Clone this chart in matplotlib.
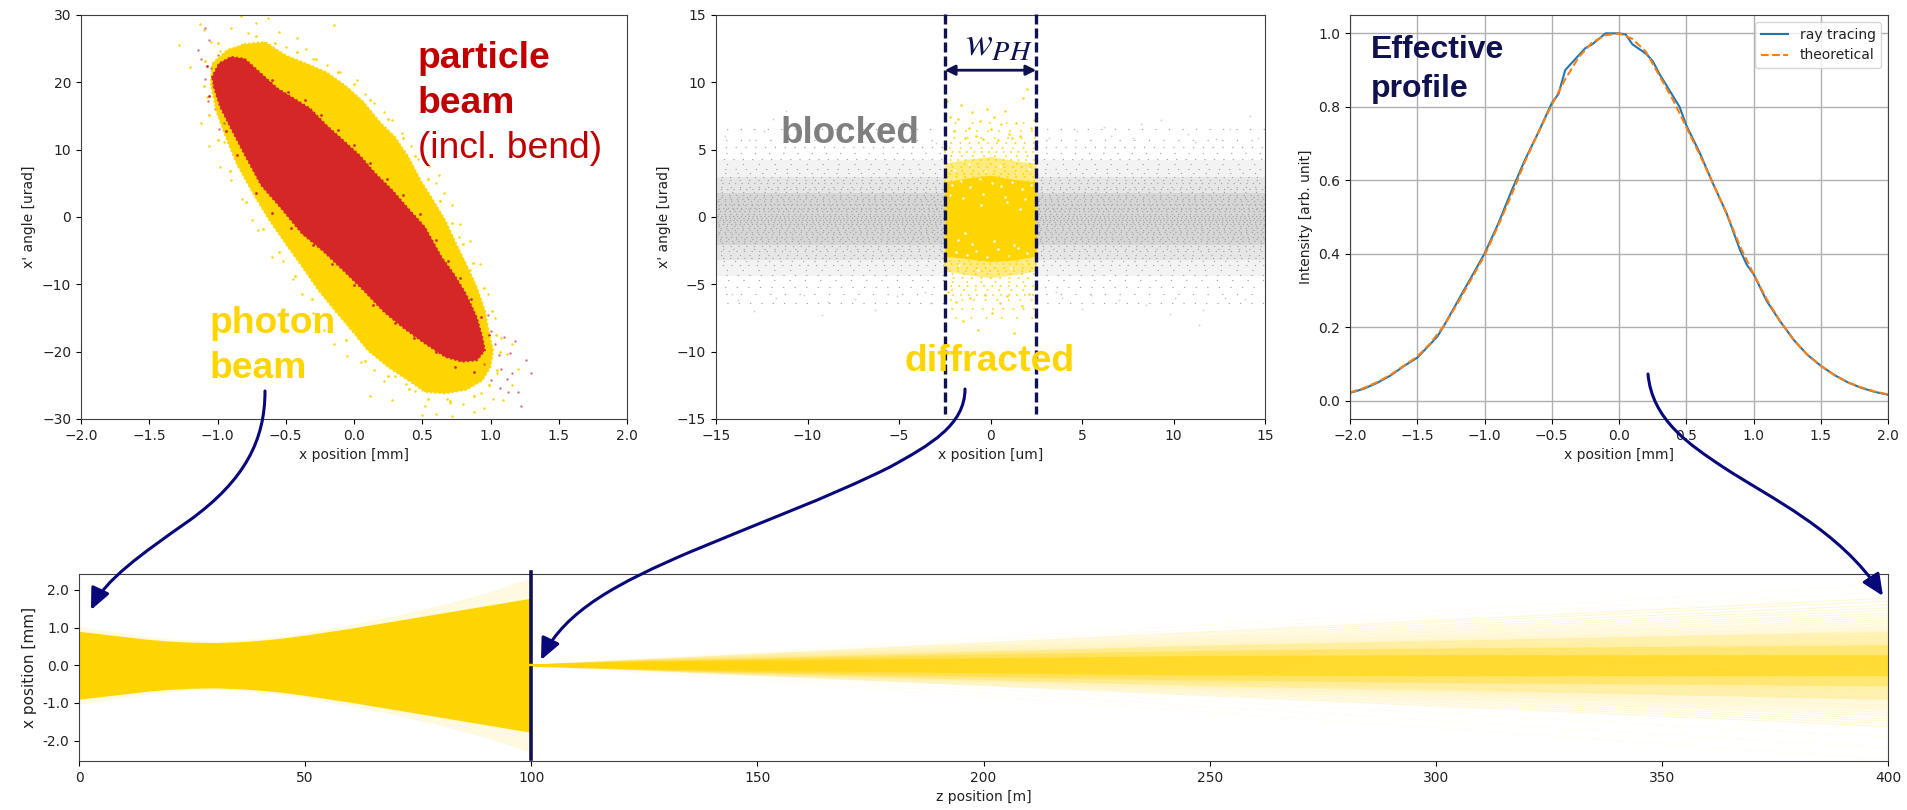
import matplotlib
matplotlib.use('Agg')
import matplotlib.pyplot as plt
from matplotlib.patches import FancyArrowPatch
from matplotlib.path import Path

W, H = 1907, 810
yellow = '#ffd500'
navy = '#10124f'
arrow_navy = '#08087a'

# phase space of photon and particle beams (outline of the dense cloud)
photon_x = [-0.80, -0.65, -0.50, -0.35, -0.20, -0.05, 0.07, 0.19, 0.30, 0.40, 0.49, 0.58, 0.67, 0.75, 0.82, 0.90, 0.96, 0.99, 1.02,
            1.0, 0.94, 0.82, 0.67, 0.52, 0.40, 0.25, 0.10, -0.02, -0.14, -0.26, -0.38, -0.50, -0.62, -0.74, -0.86, -0.95,
            -1.01, -1.05, -1.04, -0.93]
photon_y = [25.7, 26.0, 24.0, 22.8, 21.5, 19.3, 17.1, 14.1, 11.9, 8.9, 5.4, 2.5, -0.5, -4.0, -6.9, -10.4, -13.9, -17.3, -19.8,
            -22.3, -24.3, -25.7, -26.2, -26.0, -24.3, -22.3, -19.8, -16.8, -13.9, -10.9, -7.4, -4.0, -0.5, 3.5, 7.9, 12.4,
            15.8, 19.8, 22.8, 24.8]
particle_x = [-1.04, -0.99, -0.90, -0.80, -0.68, -0.56, -0.44, -0.32, -0.20, -0.08, 0.04, 0.16, 0.28, 0.40, 0.52, 0.64, 0.73, 0.82,
              0.90, 0.94, 0.96, 0.90, 0.79, 0.67, 0.52, 0.37, 0.22, 0.07, -0.08, -0.23, -0.38, -0.53, -0.68, -0.80, -0.90,
              -0.98, -1.02]
particle_y = [20.8, 22.8, 23.8, 23.5, 21.3, 19.1, 17.6, 16.1, 13.6, 11.4, 9.2, 6.4, 4.0, 1.2, -1.5, -5.9, -8.4, -11.4,
              -14.9, -17.8, -19.8, -21.3, -21.5, -20.8, -18.8, -16.6, -14.1, -10.9, -7.9, -5.0, -2.5, 1.2, 4.7, 9.2, 13.1,
              16.3, 18.8]
# loose points outside the dense cloud
photon_stray_x = [-1.13, -0.83, -0.63, -0.15, -1.28, -1.2, -1.1, -1.05, -0.98, -0.9, -0.78, -0.72, -0.55, -0.5, -0.42, -0.35, -0.3,
                  -0.2, -0.1, 0.02, 0.08, 0.15, 0.22, 0.28, 0.35, 0.42, 0.47, 0.55, 0.6, 0.66, 0.72, 0.78, 0.85, 0.92, 0.98,
                  1.03, 1.08, 1.12, 1.16, 1.2, 1.16, 1.09, 1.02, 0.95, 0.88, 0.8, 0.72, 0.68, 0.6, 0.52, 0.45, 0.38, 0.3,
                  0.22, 0.15, 0.05, -0.05, -0.15, -0.22, -0.3, -0.38, -0.45, -0.52, -0.6, -0.7, -0.75, -0.82, -0.9, -0.98,
                  -1.06, -1.12, -1.08, -0.95, -0.72, -0.6, -0.4, -0.3, 0.12, 0.28, 0.5, 0.7, 0.93, 1.05, 0.62, 0.77, 0.85]
photon_stray_y = [28.7, 29.8, 29.5, 28.5, 25.5, 22.3, 27.8, 26.0, 24.6, 28.0, 27.3, 28.8, 27.5, 25.2, 26.6, 25.0, 23.4,
                  22.6, 21.5, 20.4, 18.2, 17.0, 15.6, 14.4, 12.5, 10.6, 8.6, 7.6, 5.0, 3.5, 1.8, -1.0, -3.5, -7.0, -11.5,
                  -15.0, -18.0, -20.4, -18.8, -22.6, -25.0, -27.2, -27.0, -28.4, -29.0, -27.8, -29.6, -27.0, -29.2, -28.0,
                  -25.8, -24.8, -23.6, -24.3, -22.7, -21.6, -20.6, -18.8, -16.8, -14.2, -11.5, -9.2, -6.6, -6.0, -2.0,
                  -0.5, 2.7, 5.5, 7.4, 10.5, 14.0, 17.8, 11.2, 6.4, 0.4, -6.0, -6.4, -26.6, -27.2, -29.4, -27.6, -26.2,
                  -23.2, 6.2, -3.0, -7.8]
photon_fringe_x = [-0.72, -0.58, -0.42, -0.28, -0.12, 0.0, 0.12, 0.25, 0.36, 0.45, 0.54, 0.63, 0.72, 0.8, 0.87, 0.95, 1.01, 1.04, 1.07,
                   1.05, 0.99, 0.88, 0.7, 0.54, 0.4, 0.25, 0.08, -0.06, -0.18, -0.31, -0.43, -0.55, -0.67, -0.79, -0.91, -1.0,
                   -1.06, -1.1, -1.09, -1.0]
photon_fringe_y = [26.9, 25.8, 24.5, 23.5, 21.5, 19.8, 17.4, 14.6, 11.8, 9.0, 5.6, 2.4, -0.9, -4.0, -6.9, -10.6, -14.0, -17.5, -20.0,
                   -22.7, -25.0, -26.6, -27.4, -27.0, -25.6, -23.6, -21.4, -18.2, -15.2, -12.2, -8.8, -5.2, -1.8, 2.2, 6.8, 11.4,
                   15.2, 19.5, 23.2, 25.8]
particle_stray_x = [-1.14, -1.12, -1.09, -1.06, -1.05, -1.03, -1.0, -0.98, -1.02, -0.95, -1.09, -0.96, 0.98, 1.0, 1.03, 1.06, 1.08,
                    1.1, 1.12, 1.14, 1.16, 1.2, 1.26, 1.3, 1.22, 1.13, 1.07, 1.0, 0.95, 1.18, -1.07, -0.99]
particle_stray_y = [24.8, 23.4, 28.0, 26.3, 22.2, 19.5, 24.0, 21.2, 16.0, 14.0, 20.5, 18.6, -14.5, -17.0, -18.8, -20.5, -22.6,
                    -17.8, -24.0, -20.2, -23.2, -26.0, -21.2, -23.2, -28.0, -26.0, -25.4, -24.2, -21.8, -18.4, 17.2, 13.0]
particle_fringe_x = [-0.6, -0.48, -0.36, -0.24, -0.12, 0.0, 0.12, 0.24, 0.36, 0.48, 0.6, 0.69, 0.78, 0.86, 0.93, 0.99, -0.72, -0.6, -0.46,
                     -0.3, -0.16, 0.0, 0.14, 0.3, 0.44, 0.6, 0.74, 0.88, -0.86, -0.94, -1.06, -1.08]
particle_fringe_y = [20.3, 18.6, 17.4, 15.1, 12.9, 10.7, 8.0, 5.7, 3.2, 0.4, -3.4, -6.5, -9.0, -12.2, -14.9, -17.5, 3.6, 0.6, -1.6,
                     -4.2, -7.0, -10.1, -13.0, -15.8, -17.9, -20.0, -22.3, -23.0, 9.2, 12.8, 18.0, 22.5]

# pinhole plane
band_left = [-15, -2.5]
band_right = [2.5, 15]
band_outer = [-4.4, 4.2]
band_mid = [-3.2, 3.0]
band_core = [-2.1, 1.8]
blocked_levels = [-6.4, -5.7, -5.2, -4.7, -4.3, -3.9, -3.6, -3.3, -3.05, -2.8, -2.55, -2.35, -2.15, -1.95, -1.78, -1.6, -1.45, -1.28,
                  -1.13, -0.97, -0.82, -0.66, -0.5, -0.36, -0.2, -0.05, 0.1, 0.25, 0.41, 0.56, 0.7, 0.86, 1.0, 1.17, 1.32,
                  1.5, 1.66, 1.85, 2.05, 2.25, 2.5, 2.75, 3.0, 3.3, 3.6, 3.95, 4.3, 4.75, 5.2, 5.7, 6.5]
blocked_stray_x = [-14.5, -13.8, -13.2, -12.4, -11.7, -11.0, -10.2, -9.6, -8.9, -8.1, -7.4, -6.7, -5.9, -5.1, -4.4, -3.6, -3.0,
                   -14.1, -12.9, -11.9, -10.7, -9.2, -7.8, -6.3, -4.8, -3.3, 3.2, 3.9, 4.7, 5.5, 6.2, 7.0, 7.8, 8.5, 9.3, 10.1,
                   10.8, 11.6, 12.3, 13.1, 13.9, 14.6, 3.6, 5.0, 6.6, 8.2, 9.8, 11.2, 12.8, 14.2, -11.2, 11.4]
blocked_stray_y = [6.0, -6.2, 5.7, 6.4, -6.0, 6.1, -5.8, 6.6, -6.3, 5.9, -6.1, 6.0, 5.8, -5.9, 6.3, -5.6, 5.5,
                   -5.7, -7.0, 7.3, 7.0, -7.3, 6.8, -6.9, 7.1, -6.4, 5.9, -6.0, 6.4, -5.8, 6.7, -6.2, 5.9, -6.5, 7.2, -6.0,
                   6.2, -6.9, 5.8, 6.5, -6.1, 5.9, -5.6, -6.8, 6.0, 6.9, -7.2, 5.6, -6.0, 7.5, 7.9, -8.0]
pinhole_x = [-2.5, -1.25, 0, 1.25, 2.5]
pinhole_core_top = [2.6, 2.9, 3.1, 2.8, 2.6]
pinhole_core_bot = [-2.9, -3.1, -3.3, -3.2, -2.9]
pinhole_soft_top = [4.0, 4.3, 4.5, 4.2, 4.0]
pinhole_soft_bot = [-4.0, -4.3, -4.5, -4.3, -4.0]
diffracted_levels = [2.7, 2.95, 3.2, 3.45, 3.7, 3.95, 4.2, 4.5, 4.8, 5.1, 5.5, 5.9, 6.4, 7.0, -3.0, -3.25, -3.5, -3.75, -4.0, -4.25,
                     -4.5, -4.8, -5.1, -5.4, -5.8, -6.2, -6.8, -7.5]
diff_stray_x = [-2.4, -2.2, -2.0, -1.8, -1.6, -1.4, -1.2, -1.0, -0.8, -0.6, -0.4, -0.2, 0.0, 0.2, 0.4, 0.6, 0.8, 1.0, 1.2, 1.4, 1.6, 1.8,
                2.0, 2.2, 2.4, -2.3, -1.9, -1.5, -1.1, -0.7, -0.3, 0.1, 0.5, 0.9, 1.3, 1.7, 2.1, 2.45]
diff_stray_y = [8.6, 7.4, 6.4, 7.3, 8.3, 5.9, 6.6, 7.8, 6.0, 7.1, 5.8, 8.0, 6.5, 7.4, 5.7, 6.9, 7.9, 6.2, 5.9, 7.0, 6.0, 8.8,
                9.5, 6.6, 7.2, -5.6, -6.3, -7.7, -6.0, -8.4, -5.8, -7.1, -6.4, -5.9, -8.6, -6.6, -5.7, -7.3]
holes_x = [-2.1, -1.6, -1.1, -0.6, 0.1, 0.6, 1.2, 1.7, 2.2, -1.9, -1.3, -0.8, -0.2, 0.4, 1.0, 1.5, 2.0, -2.2, -1.5, -0.4, 0.8, 1.9,
           -1.0, 0.2, 1.3, -1.8, 0.9, -0.5, 1.6, -1.4, -2.0, -1.2, -0.3, 0.5, 1.4, 2.1, -1.7, -0.7, 0.3, 1.1, 1.8, -2.3]
holes_y = [2.4, 2.7, 2.2, 2.8, 2.5, 2.3, 2.6, 2.1, 2.4, -2.6, -2.8, -2.5, -3.0, -2.4, -2.9, -2.3, -2.7, 1.6, 1.4, 1.7, 1.5, 1.3,
           -2.0, -1.8, -2.1, -1.7, 1.1, 0.9, 0.6, -1.2, 3.5, 3.9, 3.4, 3.8, 3.3, 3.6, -3.6, -3.9, -3.5, -3.8, -3.4, -3.7]

# effective profile
tracing_x = [-2.0, -1.9, -1.8, -1.7, -1.6, -1.5, -1.4, -1.35, -1.3, -1.2, -1.1, -1.0, -0.9, -0.8, -0.7, -0.6, -0.5, -0.45, -0.4,
             -0.35, -0.25, -0.2, -0.1, 0.0, 0.05, 0.1, 0.2, 0.25, 0.3, 0.4, 0.45, 0.5, 0.6, 0.7, 0.8, 0.9, 0.95, 1.0, 1.1,
             1.2, 1.3, 1.4, 1.5, 1.6, 1.7, 1.8, 1.9, 2.0]
tracing_y = [0.021, 0.032, 0.048, 0.068, 0.094, 0.117, 0.155, 0.175, 0.205, 0.27, 0.335, 0.40, 0.48, 0.57, 0.655, 0.73, 0.81,
             0.835, 0.90, 0.92, 0.96, 0.97, 1.0, 1.0, 0.997, 0.97, 0.945, 0.925, 0.89, 0.83, 0.80, 0.75, 0.675, 0.59, 0.51,
             0.41, 0.37, 0.345, 0.27, 0.215, 0.165, 0.125, 0.095, 0.07, 0.05, 0.035, 0.024, 0.016]
theory_x = [-2.0, -1.9, -1.8, -1.7, -1.6, -1.5, -1.4, -1.3, -1.2, -1.1, -1.0, -0.9, -0.8, -0.7, -0.6, -0.5, -0.4, -0.3, -0.2, -0.1,
            0.0, 0.1, 0.2, 0.3, 0.4, 0.5, 0.6, 0.7, 0.8, 0.9, 1.0, 1.1, 1.2, 1.3, 1.4, 1.5, 1.6, 1.7, 1.8, 1.9, 2.0]
theory_y = [0.022, 0.034, 0.05, 0.07, 0.095, 0.12, 0.157, 0.205, 0.265, 0.33, 0.395, 0.475, 0.56, 0.65, 0.73, 0.805, 0.875,
            0.935, 0.975, 0.995, 1.0, 0.985, 0.95, 0.885, 0.82, 0.745, 0.67, 0.59, 0.51, 0.42, 0.345, 0.275, 0.215, 0.165,
            0.125, 0.095, 0.07, 0.05, 0.036, 0.025, 0.017]

# beam along z
z_before = [0, 5, 10, 15, 20, 25, 30, 35, 40, 45, 50, 60, 70, 80, 90, 100]
core_before = [0.90, 0.83, 0.76, 0.69, 0.64, 0.61, 0.60, 0.62, 0.66, 0.72, 0.80, 0.98, 1.18, 1.38, 1.58, 1.78]
edge_before = [1.04, 0.94, 0.85, 0.76, 0.70, 0.66, 0.64, 0.67, 0.72, 0.78, 0.87, 1.08, 1.32, 1.60, 1.92, 2.32]
z_after = [100, 150, 200, 250, 300, 350, 400]
layer_1 = [0.03, 0.13, 0.20, 0.26, 0.28, 0.28, 0.28]
layer_2 = [0.035, 0.17, 0.30, 0.40, 0.46, 0.50, 0.55]
layer_3 = [0.04, 0.20, 0.38, 0.54, 0.66, 0.78, 0.90]
ray_ends = [-1.62, -1.55, -1.48, -1.42, -1.35, -1.3, -1.25, -1.2, -1.16, -1.12, -1.08, -1.05, -1.01, -0.97, -0.93, -0.9, -0.87, -0.84,
            -0.8, -0.77, -0.73, -0.7, -0.67, -0.64, -0.61, -0.58, -0.55, -0.52, -0.49, -0.46, -0.43, -0.4, -0.37, -0.34, -0.31,
            -0.28, -0.25, -0.22, -0.19, -0.16, -0.13, -0.1, -0.07, -0.04, 0.0, 0.03, 0.06, 0.09, 0.12, 0.15, 0.18, 0.21, 0.24,
            0.27, 0.3, 0.33, 0.36, 0.39, 0.42, 0.45, 0.48, 0.51, 0.55, 0.58, 0.61, 0.64, 0.68, 0.71, 0.75, 0.78, 0.82, 0.86,
            0.9, 0.93, 0.97, 1.01, 1.05, 1.1, 1.15, 1.2, 1.26, 1.32, 1.38, 1.45, 1.52, 1.6, 1.7, 1.78]
faint_ends = [-2.5, -2.2, -1.9, 1.95, 2.15]

plt.rcParams['font.size'] = 10
plt.rcParams['axes.edgecolor'] = '#404040'
plt.rcParams['text.color'] = '#222222'
plt.rcParams['axes.labelcolor'] = '#222222'
plt.rcParams['xtick.labelcolor'] = '#222222'
plt.rcParams['ytick.labelcolor'] = '#222222'

gaps = [2.2, 3.1, 2.6, 3.7, 2.9, 4.3, 2.4, 3.4]
offsets = [0.0, 2.3, 1.1, 3.2, 0.6, 2.7, 1.7, 3.6]


def px_axes(fig, left, right, top, bottom):
    return fig.add_axes([left / W, 1 - bottom / H, (right - left) / W, (bottom - top) / H])


def speckle(ax, xs, levels, colour, size, falloff):
    # rows of dots, so a dense cloud keeps a grainy look
    for i, level in enumerate(levels):
        gap = gaps[i % 8] * (1 + abs(level) / falloff)
        ax.plot(xs, [level, level], color=colour, lw=size, dash_capstyle='round',
                ls=(offsets[(i * 3) % 8], (0.1, gap)))


fig = plt.figure(figsize=(W / 100, H / 100), dpi=100)

# top left
ax1 = px_axes(fig, 81, 627, 15, 419)
ax1.fill(photon_x, photon_y, facecolor=yellow, edgecolor='none')
ax1.plot(photon_x + photon_x[:1], photon_y + photon_y[:1], color=yellow, lw=1.5, ls=(0, (0.1, 2.0)), dash_capstyle='round')
ax1.scatter(photon_fringe_x, photon_fringe_y, s=4, color=yellow, lw=0)
ax1.scatter(photon_stray_x, photon_stray_y, s=3, color=yellow, lw=0)
ax1.scatter(particle_stray_x, particle_stray_y, s=3, color='#c8385a', alpha=0.7, lw=0)
ax1.fill(particle_x, particle_y, facecolor='#d62728', edgecolor='none')
ax1.plot(particle_x + particle_x[:1], particle_y + particle_y[:1], color='#d62728', lw=1.5, ls=(0, (0.1, 2.0)), dash_capstyle='round')
ax1.scatter(particle_fringe_x, particle_fringe_y, s=4, color='#d62728', lw=0)
ax1.set_xlim(-2, 2)
ax1.set_ylim(-30, 30)
ax1.set_xlabel('x position [mm]')
ax1.set_ylabel("x' angle [urad]")

# top middle
ax2 = px_axes(fig, 716, 1265, 15, 419)
for xs in (band_left, band_right):
    ax2.fill_between(xs, band_outer[0], band_outer[1], color='#f3f3f3', lw=0)
    ax2.fill_between(xs, band_mid[0], band_mid[1], color='#e6e6e6', lw=0)
    ax2.fill_between(xs, band_core[0], band_core[1], color='#d6d6d6', lw=0)
    speckle(ax2, xs, blocked_levels, '#a6a6a6', 1.0, 2.4)
ax2.scatter(blocked_stray_x, blocked_stray_y, s=2, color='#d8d8d8', lw=0)
ax2.fill_between(pinhole_x, pinhole_soft_bot, pinhole_soft_top, color='#ffeb80', lw=0)
ax2.fill_between(pinhole_x, pinhole_core_bot, pinhole_core_top, color=yellow, lw=0)
speckle(ax2, [-2.5, 2.5], diffracted_levels, yellow, 1.3, 6)
ax2.scatter(diff_stray_x, diff_stray_y, s=3, color=yellow, lw=0)
ax2.scatter(holes_x, holes_y, s=3, color='white', lw=0)
ax2.plot([-2.5, -2.5], [15.1, -14.6], color=navy, lw=2.4, ls=(0, (3, 1.2)), clip_on=False, zorder=5)
ax2.plot([2.5, 2.5], [15.1, -14.6], color=navy, lw=2.4, ls=(0, (3, 1.2)), clip_on=False, zorder=5)
ax2.annotate('', xy=(-2.5, 10.9), xytext=(2.5, 10.9),
             arrowprops=dict(arrowstyle='<|-|>', color=navy, lw=2, mutation_scale=15, shrinkA=0, shrinkB=0))
ax2.set_xlim(-15, 15)
ax2.set_ylim(-15, 15)
ax2.set_xlabel('x position [um]')
ax2.set_ylabel("x' angle [urad]")

# top right
ax3 = px_axes(fig, 1350, 1888, 15, 419)
ax3.plot(tracing_x, tracing_y, color='#1f77b4', lw=1.5, label='ray tracing')
ax3.plot(theory_x, theory_y, color='#ff7f0e', lw=1.5, ls='--', label='theoretical')
ax3.set_xlim(-2, 2)
ax3.set_ylim(-0.05, 1.05)
ax3.grid(True, color='#b0b0b0', lw=1)
ax3.set_xlabel('x position [mm]')
ax3.set_ylabel('Intensity [arb. unit]')
ax3.legend(loc='upper right', fontsize=10)

# bottom
ax4 = px_axes(fig, 79, 1888, 574, 761)
ax4.fill_between(z_before, [-v for v in edge_before], edge_before, color=yellow, alpha=0.12, lw=0)
ax4.fill_between(z_before, [-v for v in core_before], core_before, color=yellow, lw=0)
for layer, strength in [(layer_3, 0.18), (layer_2, 0.3), (layer_1, 0.55)]:
    ax4.fill_between(z_after, [-v for v in layer], layer, color=yellow, alpha=strength, lw=0)
for end in ray_ends:
    ax4.plot([100, 400], [0, end], color=yellow, lw=0.9, alpha=0.16)
for end in faint_ends:
    ax4.plot([100, 400], [0, end], color=yellow, lw=0.7, alpha=0.06)
ax4.plot([100, 100], [2.47, 0.08], color=navy, lw=2.6, clip_on=False, zorder=5)
ax4.plot([100, 100], [-0.08, -2.5], color=navy, lw=2.6, clip_on=False, zorder=5)
ax4.set_xlim(0, 400)
ax4.set_ylim(-2.54, 2.42)
ax4.set_yticks([-2, -1, 0, 1, 2])
ax4.set_yticklabels(['-2.0', '-1.0', '0.0', '1.0', '2.0'])
ax4.set_xlabel('z position [m]')
ax4.set_ylabel('x position [mm]', fontsize=11)

# overlay in picture pixels for the slide annotations
over = fig.add_axes([0, 0, 1, 1], zorder=10)
over.set_xlim(0, W)
over.set_ylim(H, 0)
over.axis('off')
over.patch.set_alpha(0)

sans = 'Liberation Sans'
over.text(418, 68, 'particle', color='#c00000', fontsize=26.8, fontweight='bold', family=sans)
over.text(418, 113, 'beam', color='#c00000', fontsize=26.8, fontweight='bold', family=sans)
over.text(418, 158, '(incl. bend)', color='#c00000', fontsize=26.8, family=sans)
over.text(210, 333, 'photon', color=yellow, fontsize=26.8, fontweight='bold', family=sans)
over.text(210, 378, 'beam', color=yellow, fontsize=26.8, fontweight='bold', family=sans)
over.text(781, 143, 'blocked', color='#7f7f7f', fontsize=26.5, fontweight='bold', family=sans)
over.text(905, 371, 'diffracted', color=yellow, fontsize=26.8, fontweight='bold', family=sans)
over.text(1371, 58, 'Effective', color=navy, fontsize=23, fontweight='bold', family=sans)
over.text(1371, 97, 'profile', color=navy, fontsize=23, fontweight='bold', family=sans)
over.text(965, 56, r'$w_{PH}$', color=navy, fontsize=29, math_fontfamily='stix')

curves = [
    [(265, 391), (265, 440), (245, 480), (190, 520), (140, 555), (105, 580), (91, 610)],
    [(965, 389), (965, 425), (930, 445), (890, 467), (830, 497), (754, 525), (690, 552), (620, 582), (565, 610), (541, 660)],
    [(1648, 374), (1652, 420), (1690, 445), (1723, 467), (1770, 498), (1840, 530), (1883, 596)],
]
for pts in curves:
    codes = [Path.MOVETO] + [Path.CURVE4] * (len(pts) - 1)
    over.add_patch(FancyArrowPatch(path=Path(pts, codes), arrowstyle='-|>,head_length=1.0,head_width=0.45',
                                   mutation_scale=13, color=arrow_navy, lw=2.2, transform=over.transData))

fig.savefig('out.png', dpi=100)
